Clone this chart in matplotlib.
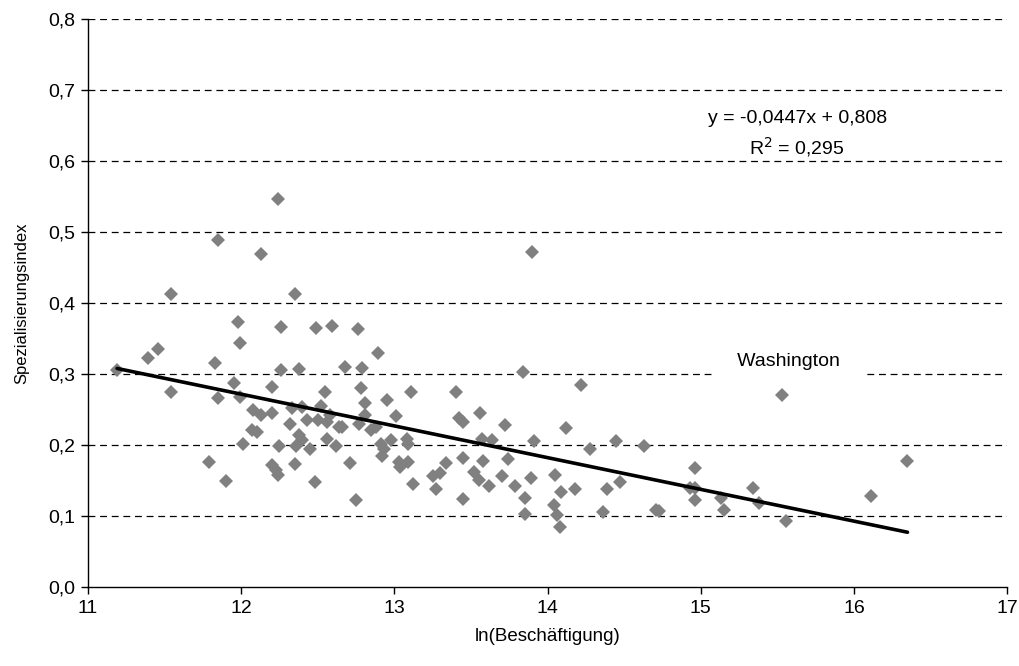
import numpy as np
import matplotlib
matplotlib.use('Agg')
import matplotlib.pyplot as plt
from matplotlib.ticker import FuncFormatter, MultipleLocator

plt.rcParams['font.family'] = ['Liberation Sans', 'DejaVu Sans']

# ln(Beschäftigung) und Spezialisierungsindex je Region
ln_besch = [
    11.19, 11.39, 11.46, 11.54, 11.54, 11.79, 11.83, 11.85, 11.85, 11.90,
    11.95, 11.98, 11.99, 11.99, 12.01, 12.07, 12.08, 12.10, 12.13, 12.13,
    12.20, 12.20, 12.20, 12.23, 12.24, 12.24, 12.25, 12.26, 12.26, 12.32,
    12.33, 12.35, 12.35, 12.36, 12.38, 12.38, 12.40, 12.40, 12.43, 12.45,
    12.48, 12.49, 12.50, 12.52, 12.55, 12.56, 12.56, 12.58, 12.59, 12.62,
    12.64, 12.66, 12.68, 12.71, 12.75, 12.76, 12.77, 12.78, 12.79, 12.81,
    12.81, 12.85, 12.88, 12.89, 12.91, 12.93, 12.92, 12.95, 12.98, 13.01,
    13.03, 13.04, 13.08, 13.09, 13.09, 13.11, 13.12, 13.25, 13.27, 13.30,
    13.34, 13.40, 13.42, 13.45, 13.45, 13.45, 13.52, 13.55, 13.56, 13.57,
    13.58, 13.62, 13.64, 13.70, 13.72, 13.74, 13.79, 13.84, 13.85, 13.85,
    13.89, 13.90, 13.91, 14.04, 14.05, 14.06, 14.08, 14.09, 14.12, 14.18,
    14.22, 14.28, 14.36, 14.39, 14.45, 14.47, 14.63, 14.71, 14.73, 14.93,
    14.96, 14.96, 14.96, 15.13, 15.15, 15.34, 15.38, 15.53, 15.56, 16.11,
    16.35,
]
spez_index = [
    0.305, 0.323, 0.335, 0.413, 0.275, 0.176, 0.315, 0.489, 0.266, 0.150,
    0.288, 0.373, 0.344, 0.268, 0.202, 0.221, 0.250, 0.219, 0.469, 0.242,
    0.281, 0.245, 0.172, 0.165, 0.546, 0.158, 0.199, 0.366, 0.305, 0.230,
    0.252, 0.412, 0.173, 0.198, 0.307, 0.214, 0.254, 0.207, 0.235, 0.195,
    0.148, 0.365, 0.235, 0.255, 0.275, 0.233, 0.208, 0.242, 0.368, 0.199,
    0.226, 0.226, 0.310, 0.174, 0.123, 0.363, 0.230, 0.280, 0.308, 0.259,
    0.242, 0.221, 0.226, 0.329, 0.202, 0.195, 0.184, 0.264, 0.207, 0.241,
    0.176, 0.169, 0.209, 0.176, 0.202, 0.275, 0.145, 0.156, 0.138, 0.161,
    0.175, 0.274, 0.238, 0.233, 0.182, 0.124, 0.162, 0.151, 0.245, 0.209,
    0.178, 0.142, 0.207, 0.156, 0.228, 0.180, 0.142, 0.303, 0.125, 0.103,
    0.153, 0.472, 0.205, 0.115, 0.158, 0.101, 0.085, 0.134, 0.224, 0.138,
    0.285, 0.195, 0.105, 0.138, 0.206, 0.148, 0.198, 0.109, 0.107, 0.140,
    0.167, 0.139, 0.123, 0.125, 0.109, 0.140, 0.118, 0.271, 0.093, 0.128,
    0.177,
]

# lineare Trendlinie aus der Regression
slope = -0.0447
intercept = 0.808
r2 = 0.295

fig = plt.figure(figsize=(10.2, 6.66), dpi=100)
ax = fig.add_axes([0.0863, 0.1186, 0.9010, 0.8529])

ax.plot(ln_besch, spez_index, linestyle='none', marker='D', markersize=7.6,
        color='#808080', markeredgewidth=0, zorder=3)

x_fit = np.array([min(ln_besch), max(ln_besch)])
ax.plot(x_fit, slope * x_fit + intercept, color='black', linewidth=2.6,
        solid_capstyle='round', zorder=4)

ax.set_xlim(11, 17)
ax.set_ylim(0, 0.8)
ax.xaxis.set_major_locator(MultipleLocator(1))
ax.yaxis.set_major_locator(MultipleLocator(0.1))
ax.yaxis.set_major_formatter(FuncFormatter(lambda v, p: f'{v:.1f}'.replace('.', ',')))

# gestrichelte Gitterlinien
for yv in np.arange(0.1, 0.81, 0.1):
    ax.axhline(yv, color='black', linewidth=0.9, dashes=(5.5, 3.8), zorder=1)

for side in ['top', 'right']:
    ax.spines[side].set_visible(False)
for side in ['left', 'bottom']:
    ax.spines[side].set_linewidth(1.0)
ax.tick_params(direction='out', length=5, width=1, labelsize=14, pad=4)

ax.set_xlabel('ln(Beschäftigung)', fontsize=13.5, labelpad=8)
ax.set_ylabel('Spezialisierungsindex', fontsize=12, labelpad=14)

ax.text(15.63, 0.637, f'y = {slope:.4f}x + {intercept:.3f}\nR$^2$ = {r2:.3f}'.replace('.', ','),
        ha='center', va='center', fontsize=14, linespacing=1.4, zorder=5)

# Beschriftung mit weißem Kasten, der die Gitterlinie unterbricht
ax.text(15.57, 0.318, '   Washington   ', ha='center', va='center', fontsize=14, zorder=5,
        bbox=dict(facecolor='white', edgecolor='none', boxstyle='square,pad=0.45'))

fig.savefig('out.png', dpi=100)
